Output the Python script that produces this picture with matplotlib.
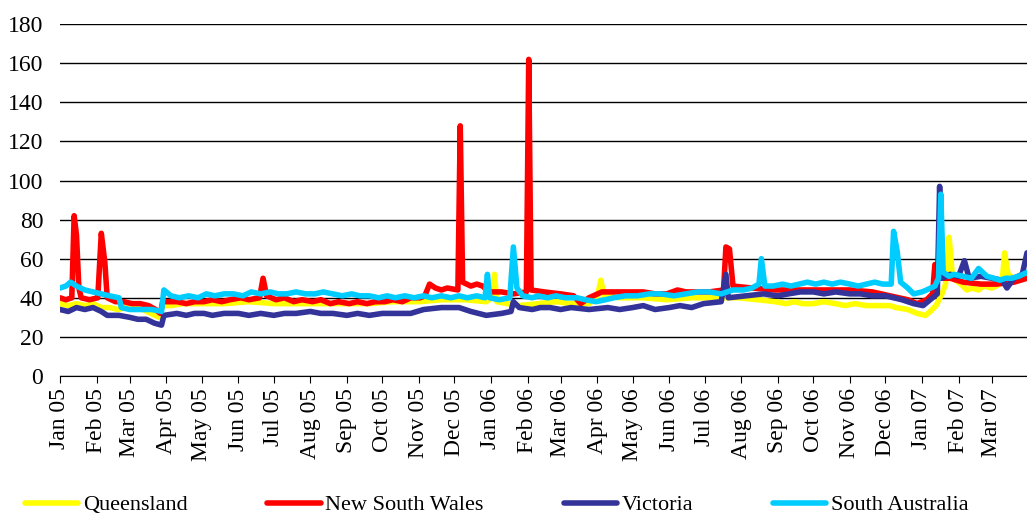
import matplotlib
matplotlib.use("Agg")
import matplotlib.pyplot as plt
import matplotlib.dates as mdates
import pandas as pd

plt.rcParams['font.family'] = ['Liberation Serif', 'DejaVu Serif']

series_names = ["Queensland", "New South Wales", "Victoria", "South Australia"]
series_colors = ["#FFFF00", "#FF0000", "#333399", "#00CCFF"]

qld = [("2005-01-01",37),("2005-01-08",36),("2005-01-15",37),("2005-01-22",36),("2005-01-29",37),
       ("2005-02-05",35),("2005-02-12",35),("2005-02-19",34),("2005-02-26",35),("2005-03-05",35),
       ("2005-03-12",34),("2005-03-19",32),("2005-03-26",30),("2005-03-29",36),("2005-04-05",36),
       ("2005-04-15",37),("2005-05-01",37),("2005-05-20",37),("2005-06-10",38),("2005-07-01",37),
       ("2005-07-20",37),("2005-08-10",37),("2005-09-01",37),("2005-09-20",37),("2005-10-10",38),
       ("2005-11-01",38),("2005-11-20",39),("2005-12-10",39),("2005-12-28",38),("2006-01-02",40),
       ("2006-01-04",52),("2006-01-06",38),("2006-01-15",37),("2006-01-25",36),("2006-02-10",37),
       ("2006-02-25",38),("2006-03-10",37),("2006-03-25",37),("2006-04-01",40),("2006-04-04",49),
       ("2006-04-07",41),("2006-04-20",40),("2006-05-10",40),("2006-05-30",39),("2006-06-20",40),
       ("2006-07-10",40),("2006-07-30",40),("2006-08-15",39),("2006-08-30",38),("2006-09-08",37),
       ("2006-09-15",38),("2006-09-22",37),("2006-10-01",37),("2006-10-10",38),("2006-10-20",37),
       ("2006-10-28",36),("2006-11-05",37),("2006-11-15",36),("2006-11-25",36),("2006-12-05",36),
       ("2006-12-10",35),("2006-12-20",34),("2006-12-28",32),("2007-01-04",31),("2007-01-08",33),
       ("2007-01-13",36),("2007-01-18",42),("2007-01-21",47),("2007-01-24",71),("2007-01-27",50),
       ("2007-02-03",47),("2007-02-08",44),("2007-02-12",45),("2007-02-18",44),("2007-02-22",46),
       ("2007-03-01",45),("2007-03-05",46),("2007-03-10",48),("2007-03-12",63),("2007-03-15",52),
       ("2007-03-22",49),("2007-03-31",52)]

nsw = [("2005-01-01",40),("2005-01-06",39),("2005-01-11",40),("2005-01-13",82),("2005-01-15",72),
       ("2005-01-17",45),("2005-01-19",40),("2005-01-26",39),("2005-02-02",40),("2005-02-05",73),
       ("2005-02-08",58),("2005-02-10",40),("2005-02-17",38),("2005-02-24",38),("2005-03-03",37),
       ("2005-03-10",37),("2005-03-17",36),("2005-03-23",34),("2005-03-27",32),("2005-03-29",38),
       ("2005-04-10",38),("2005-04-18",37),("2005-04-25",38),("2005-05-03",38),("2005-05-10",39),
       ("2005-05-18",38),("2005-05-25",39),("2005-06-03",40),("2005-06-10",39),("2005-06-19",40),
       ("2005-06-22",50),("2005-06-25",41),("2005-07-03",39),("2005-07-10",40),("2005-07-18",38),
       ("2005-07-25",39),("2005-08-03",38),("2005-08-10",39),("2005-08-18",37),("2005-08-25",38),
       ("2005-09-03",37),("2005-09-10",38),("2005-09-18",37),("2005-09-25",38),("2005-10-03",38),
       ("2005-10-10",39),("2005-10-18",38),("2005-10-25",40),("2005-11-02",40),("2005-11-06",41),
       ("2005-11-10",47),("2005-11-15",45),("2005-11-20",44),("2005-11-25",45),("2005-12-04",44),
       ("2005-12-06",128),("2005-12-08",48),("2005-12-15",46),("2005-12-20",47),("2005-12-25",46),
       ("2005-12-30",43),("2006-01-10",43),("2006-01-20",42),("2006-01-31",43),("2006-02-02",162),
       ("2006-02-04",44),("2006-02-15",43),("2006-03-01",42),("2006-03-12",41),("2006-03-18",37),
       ("2006-03-25",40),("2006-04-05",43),("2006-04-20",43),("2006-05-10",43),("2006-05-20",42),
       ("2006-05-30",42),("2006-06-08",44),("2006-06-15",43),("2006-06-25",43),("2006-07-05",43),
       ("2006-07-17",44),("2006-07-19",66),("2006-07-22",65),("2006-07-25",46),("2006-08-10",45),
       ("2006-08-30",44),("2006-09-20",44),("2006-10-10",44),("2006-11-01",44),("2006-11-20",43),
       ("2006-12-05",41),("2006-12-20",39),("2006-12-28",37),("2007-01-05",39),("2007-01-10",42),
       ("2007-01-12",57),("2007-01-15",54),("2007-01-18",50),("2007-01-25",50),("2007-02-05",48),
       ("2007-02-20",47),("2007-03-05",47),("2007-03-20",48),("2007-03-31",50)]

vic = [("2005-01-01",34),("2005-01-08",33),("2005-01-15",35),("2005-01-22",34),("2005-01-29",35),
       ("2005-02-05",33),("2005-02-10",31),("2005-02-20",31),("2005-03-01",30),("2005-03-08",29),
       ("2005-03-15",29),("2005-03-22",27),("2005-03-28",26),("2005-03-30",31),("2005-04-10",32),
       ("2005-04-18",31),("2005-04-25",32),("2005-05-03",32),("2005-05-10",31),("2005-05-20",32),
       ("2005-06-01",32),("2005-06-10",31),("2005-06-20",32),("2005-07-01",31),("2005-07-10",32),
       ("2005-07-20",32),("2005-08-01",33),("2005-08-10",32),("2005-08-20",32),("2005-09-01",31),
       ("2005-09-10",32),("2005-09-20",31),("2005-10-01",32),("2005-10-25",32),("2005-11-05",34),
       ("2005-11-20",35),("2005-12-05",35),("2005-12-15",33),("2005-12-28",31),("2006-01-10",32),
       ("2006-01-18",33),("2006-01-20",38),("2006-01-25",35),("2006-02-05",34),("2006-02-12",35),
       ("2006-02-20",35),("2006-03-01",34),("2006-03-10",35),("2006-03-25",34),("2006-04-10",35),
       ("2006-04-20",34),("2006-05-01",35),("2006-05-10",36),("2006-05-20",34),("2006-06-01",35),
       ("2006-06-10",36),("2006-06-20",35),("2006-06-30",37),("2006-07-15",38),("2006-07-19",52),
       ("2006-07-21",40),("2006-08-05",41),("2006-08-20",42),("2006-09-01",41),("2006-09-10",42),
       ("2006-09-20",43),("2006-10-01",43),("2006-10-10",42),("2006-10-20",43),("2006-11-01",42),
       ("2006-11-10",42),("2006-11-20",41),("2006-12-01",41),("2006-12-15",39),("2006-12-25",37),
       ("2007-01-02",36),("2007-01-08",39),("2007-01-14",42),("2007-01-16",97),("2007-01-18",50),
       ("2007-01-25",52),("2007-02-01",51),("2007-02-06",59),("2007-02-10",50),("2007-02-20",51),
       ("2007-03-01",50),("2007-03-10",49),("2007-03-14",45),("2007-03-20",50),("2007-03-27",52),
       ("2007-03-31",63)]

sa = [("2005-01-01",45),("2005-01-06",46),("2005-01-10",48),("2005-01-15",46),("2005-01-22",44),
      ("2005-01-29",43),("2005-02-05",42),("2005-02-12",41),("2005-02-20",40),("2005-02-22",35),
      ("2005-03-01",34),("2005-03-10",34),("2005-03-20",34),("2005-03-28",33),("2005-03-30",44),
      ("2005-04-05",41),("2005-04-12",40),("2005-04-20",41),("2005-04-28",40),("2005-05-05",42),
      ("2005-05-12",41),("2005-05-20",42),("2005-05-28",42),("2005-06-05",41),("2005-06-12",43),
      ("2005-06-20",42),("2005-06-28",43),("2005-07-05",42),("2005-07-12",42),("2005-07-20",43),
      ("2005-07-28",42),("2005-08-05",42),("2005-08-12",43),("2005-08-20",42),("2005-08-28",41),
      ("2005-09-05",42),("2005-09-12",41),("2005-09-20",41),("2005-09-28",40),("2005-10-05",41),
      ("2005-10-12",40),("2005-10-20",41),("2005-10-28",40),("2005-11-05",41),("2005-11-12",40),
      ("2005-11-20",41),("2005-11-28",40),("2005-12-05",41),("2005-12-12",40),("2005-12-20",41),
      ("2005-12-27",40),("2005-12-29",52),("2005-12-31",40),("2006-01-08",39),("2006-01-17",40),
      ("2006-01-20",66),("2006-01-23",45),("2006-01-28",41),("2006-02-05",40),("2006-02-10",41),
      ("2006-02-18",40),("2006-02-25",41),("2006-03-05",40),("2006-03-15",40),("2006-03-22",39),
      ("2006-03-31",38),("2006-04-08",39),("2006-04-15",40),("2006-04-25",41),("2006-05-05",41),
      ("2006-05-15",42),("2006-05-25",42),("2006-06-05",41),("2006-06-15",42),("2006-06-25",43),
      ("2006-07-05",43),("2006-07-15",42),("2006-07-25",44),("2006-08-03",44),("2006-08-10",45),
      ("2006-08-16",47),("2006-08-18",60),("2006-08-21",46),("2006-08-28",46),("2006-09-05",47),
      ("2006-09-12",46),("2006-09-19",47),("2006-09-26",48),("2006-10-03",47),("2006-10-10",48),
      ("2006-10-17",47),("2006-10-24",48),("2006-11-01",47),("2006-11-08",46),("2006-11-15",47),
      ("2006-11-22",48),("2006-11-29",47),("2006-12-06",47),("2006-12-08",74),("2006-12-11",64),
      ("2006-12-14",48),("2006-12-20",45),("2006-12-25",42),("2007-01-01",43),("2007-01-05",44),
      ("2007-01-12",46),("2007-01-15",50),("2007-01-17",93),("2007-01-19",53),("2007-01-24",51),
      ("2007-01-28",52),("2007-02-05",51),("2007-02-12",50),("2007-02-18",55),("2007-02-25",51),
      ("2007-03-03",50),("2007-03-08",49),("2007-03-13",50),("2007-03-18",50),("2007-03-24",51),
      ("2007-03-31",53)]

y_ticks = [0, 20, 40, 60, 80, 100, 120, 140, 160, 180]

fig = plt.figure(figsize=(10.27, 5.15), dpi=100)
ax = fig.add_axes([0.0584, 0.27, 0.9416, 0.683])

for data, name, color in zip([qld, nsw, vic, sa], series_names, series_colors):
    d = pd.to_datetime([p[0] for p in data])
    v = [p[1] for p in data]
    ax.plot(d, v, color=color, lw=4, label=name, solid_joinstyle='round', solid_capstyle='round')

ax.set_ylim(0, 180)
ax.set_yticks(y_ticks)
ax.set_xlim(pd.Timestamp("2005-01-01"), pd.Timestamp("2007-03-31"))
ax.xaxis.set_major_locator(mdates.MonthLocator())
ax.xaxis.set_major_formatter(mdates.DateFormatter("%b %y"))
ax.grid(axis='y', color='black', lw=1)
ax.set_axisbelow(True)
for s in ['left', 'right', 'top']:
    ax.spines[s].set_visible(False)
ax.spines['bottom'].set_color('black')
ax.tick_params(axis='y', length=0, pad=12, labelsize=17)
ax.tick_params(axis='x', length=5, direction='out', labelsize=17, pad=4)
for lab in ax.get_xticklabels():
    lab.set_rotation(90)

handles, labels = ax.get_legend_handles_labels()
leg = fig.legend(handles, labels, loc='center left', bbox_to_anchor=(0.0243, 0.0194), ncol=4,
                 frameon=False, fontsize=16, handlelength=2.4, handletextpad=0.2,
                 columnspacing=3.6, borderpad=0, borderaxespad=0)

fig.savefig("out.png", dpi=100)
